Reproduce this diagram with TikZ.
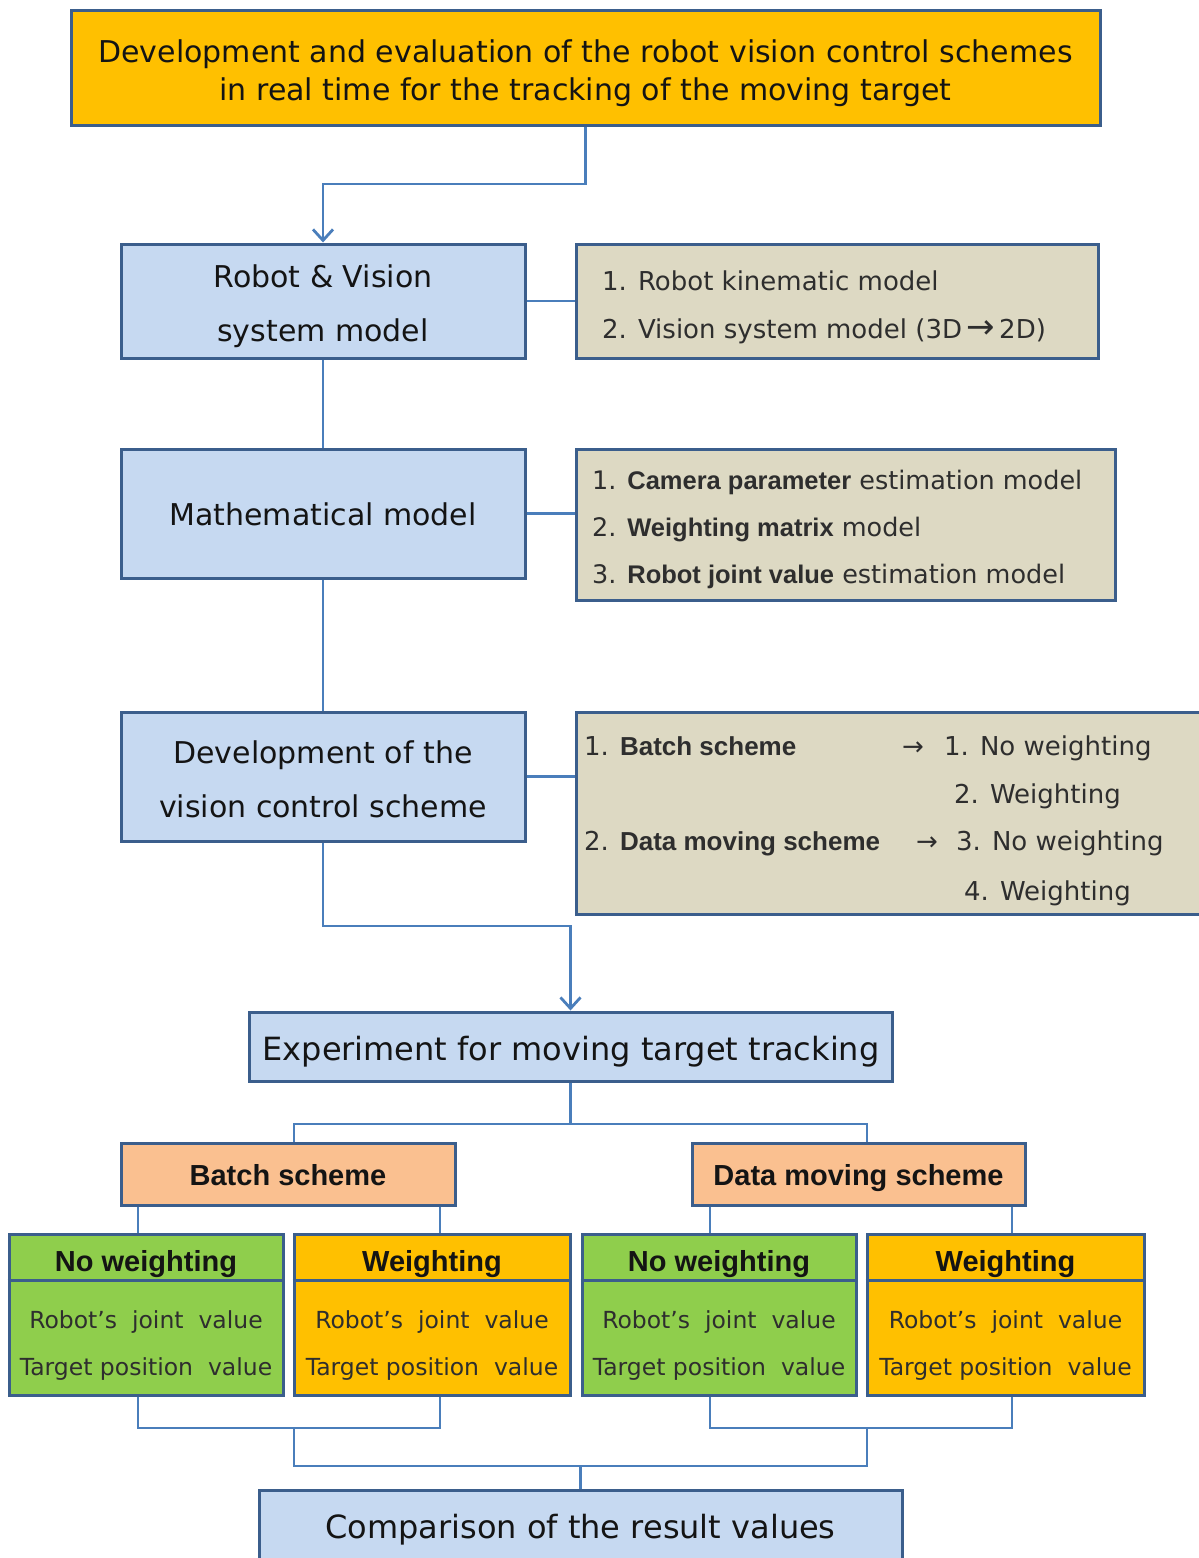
\documentclass[tikz,border=0pt]{standalone}
\usepackage{fontspec}
\setmainfont{DejaVu Sans}
\newfontfamily\libsans{Liberation Sans}
\newcommand\bsans[1]{{\libsans\bfseries #1}}
\usetikzlibrary{arrows.meta,calc}
\definecolor{edge}{HTML}{3B5E8C}
\definecolor{wirec}{HTML}{4A7EBB}
\definecolor{skyfill}{HTML}{C6D9F1}
\definecolor{tanfill}{HTML}{DDD9C3}
\definecolor{amber}{HTML}{FFC000}
\definecolor{peach}{HTML}{FAC090}
\definecolor{leaf}{HTML}{8FCE4C}
\definecolor{ink}{HTML}{141414}
\definecolor{grayink}{HTML}{2E2E2E}
\begin{document}
\begin{tikzpicture}[x=1pt,y=-1pt,
  frame/.style={draw=edge, line width=3pt, inner sep=0pt},
  wire/.style={draw=wirec, line width=2.8pt},
  tip/.style={-{Straight Barb[length=11pt,width=20pt]}},
  txt/.style={inner sep=0pt, text height=.72em, text depth=0pt, text=ink, yshift=-6.5pt},
  titletxt/.style={txt, font=\fontsize{30}{30}\selectfont},
  boxtxt/.style={txt, font=\fontsize{30}{30}\selectfont},
  bigtxt/.style={txt, font=\fontsize{32}{32}\selectfont},
  sidetxt/.style={txt, anchor=west, text=grayink, font=\fontsize{26}{26}\selectfont},
  headtxt/.style={txt, font=\libsans\bfseries\fontsize{29}{29}\selectfont},
  bodytxt/.style={txt, text=grayink, font=\fontsize{23.5}{23.5}\selectfont},
]
\useasboundingbox (0,0) rectangle (1199,1558);
\fill[white] (0,0) rectangle (1199,1558);

% ---------- main column ----------
\node[frame, fill=amber, minimum width=1029pt, minimum height=115pt] (title) at (585.5,67.5) {};
\node[titletxt] (title1) at (585.5,52) {Development and evaluation of the robot vision control schemes};
\node[titletxt] (title2) at (585.5,90) {in real time for the tracking of the moving target};

\node[frame, fill=skyfill, minimum width=404pt, minimum height=114pt] (rv) at (323,301) {};
\node[boxtxt] (rv1) at (323,277) {Robot \& Vision};
\node[boxtxt] (rv2) at (323,331) {system model};

\node[frame, fill=skyfill, minimum width=404pt, minimum height=129pt] (mm) at (323,513.5) {};
\node[boxtxt] (mm1) at (323,515) {Mathematical model};

\node[frame, fill=skyfill, minimum width=404pt, minimum height=129pt] (dev) at (323,776.5) {};
\node[boxtxt] (dev1) at (323,753) {Development of the};
\node[boxtxt] (dev2) at (323,807) {vision control scheme};

% ---------- side notes ----------
\node[frame, fill=tanfill, minimum width=522pt, minimum height=114pt] (s1) at (837,301) {};
\node[sidetxt] (s1a) at (602,280) {1. Robot kinematic model};
\node[sidetxt] (s1b) at (602,328) {2. Vision system model (3D\,{\fontsize{34}{34}\selectfont →}\,2D)};

\node[frame, fill=tanfill, minimum width=539pt, minimum height=151pt] (s2) at (845.5,524.5) {};
\node[sidetxt, font=\fontsize{25.5}{25.5}\selectfont] (s2a) at (592,479) {1. \bsans{Camera parameter} estimation model};
\node[sidetxt, font=\fontsize{25.5}{25.5}\selectfont] (s2b) at (592,526) {2. \bsans{Weighting matrix} model};
\node[sidetxt, font=\fontsize{25.5}{25.5}\selectfont] (s2c) at (592,573) {3. \bsans{Robot joint value} estimation model};

\node[frame, fill=tanfill, minimum width=629pt, minimum height=202pt] (s3) at (890.5,813) {};
\node[sidetxt] (s3a) at (584,745) {1. \bsans{Batch scheme}};
\node[sidetxt] (s3ar) at (902,745) {→};
\node[sidetxt] (s3a1) at (944,745) {1. No weighting};
\node[sidetxt] (s3a2) at (954,793) {2. Weighting};
\node[sidetxt] (s3b) at (584,840) {2. \bsans{Data moving scheme}};
\node[sidetxt] (s3br) at (916,840) {→};
\node[sidetxt] (s3b1) at (956,840) {3. No weighting};
\node[sidetxt] (s3b2) at (964,890) {4. Weighting};

% ---------- experiment ----------
\node[frame, fill=skyfill, minimum width=643pt, minimum height=69pt] (exp) at (570.5,1046.5) {};
\node[bigtxt] (exp1) at (571,1050) {Experiment for moving target tracking};

\node[frame, fill=peach, minimum width=334pt, minimum height=62pt] (batch) at (288,1174) {};
\node[headtxt] (batch1) at (288,1175) {Batch scheme};
\node[frame, fill=peach, minimum width=333pt, minimum height=62pt] (dms) at (858.5,1174) {};
\node[headtxt] (dms1) at (858.5,1175) {Data moving scheme};

% ---------- result boxes ----------
\foreach \nm/\cx/\w/\col/\hd in {g1/146/274/leaf/No weighting, o1/432/276/amber/Weighting,
                                g2/719/274/leaf/No weighting, o2/1005.5/277/amber/Weighting}{
  \node[frame, fill=\col, minimum width=\w pt, minimum height=161pt] (\nm) at (\cx,1314.5) {};
  \draw[edge, line width=3pt] (\nm.west |- 0,1280) -- (\nm.east |- 0,1280);
  \node[headtxt] (\nm h) at (\cx,1261) {\hd};
  \node[bodytxt] (\nm a) at (\cx,1318) {Robot's\ \ joint\ \ value};
  \node[bodytxt] (\nm b) at (\cx,1365) {Target\ position\ \ value};
}

\node[frame, fill=skyfill, minimum width=643pt, minimum height=80pt] (cmp) at (580.5,1530) {};
\node[bigtxt] (cmp1) at (580.5,1528) {Comparison of the result values};

% ---------- connectors ----------
\coordinate (j1) at (323,184);
\coordinate (j2) at (570.5,926);
\draw[wire, tip] (title.south) |- (j1) -- (rv.north);
\draw[wire] (rv.south) -- (mm.north);
\draw[wire] (mm.south) -- (dev.north);
\draw[wire, tip] (dev.south) |- (j2) -- (exp.north);

\draw[wire] (rv.east) -- (s1.west);
\draw[wire] (mm.east) -- (mm.east -| s2.west);
\draw[wire] (dev.east) -- (dev.east -| s3.west);

\coordinate (jm) at (570.5,1124);
\coordinate (jb) at (294,1124);
\coordinate (jd) at (867,1124);
\draw[wire] (exp.south) -- (jm);
\draw[wire] (jb |- batch.north) -- (jb) -- (jd) -- (jd |- dms.north);

\coordinate (bL) at (138,1205);
\coordinate (bR) at (440,1205);
\coordinate (dL) at (710,1205);
\coordinate (dR) at (1012,1205);
\draw[wire] (bL |- batch.south) -- (bL |- g1.north);
\draw[wire] (bR |- batch.south) -- (bR |- o1.north);
\draw[wire] (dL |- dms.south) -- (dL |- g2.north);
\draw[wire] (dR |- dms.south) -- (dR |- o2.north);

\coordinate (kL) at (294,1428);
\coordinate (kR) at (867,1428);
\coordinate (kM) at (580.5,1466);
\draw[wire] (bL |- g1.south) |- (kL) -| (bR |- o1.south);
\draw[wire] (dL |- g2.south) |- (kR) -| (dR |- o2.south);
\draw[wire] (kL) |- (kM) -| (kR);
\draw[wire] (kM) -- (cmp.north);
\end{tikzpicture}
\end{document}
